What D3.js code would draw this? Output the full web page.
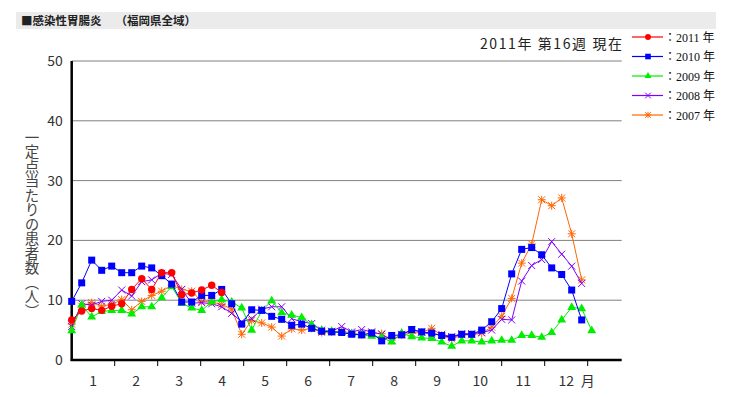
<!DOCTYPE html>
<html>
<head>
<meta charset="utf-8">
<script src="https://cdn.jsdelivr.net/npm/d3@7"></script>
<style>
  body { margin: 0; background: #fff; }
  svg { display: block; }
  .tick-label { font-family: "Noto Sans CJK JP", "DejaVu Sans", sans-serif; font-size: 14px; fill: #333; }
</style>
</head>
<body>
<svg id="chart" width="736" height="397"></svg>
<script>
// weekly values, one entry per week starting at week 1
const y2011 = [6.7, 8.2, 8.6, 8.3, 9.0, 9.4, 11.8, 13.6, 11.8, 14.6, 14.6, 10.9, 11.2, 11.7, 12.5, 11.3];
const y2010 = [9.8, 12.9, 16.7, 15.0, 15.7, 14.6, 14.6, 15.7, 15.4, 14.1, 12.7, 9.7, 9.7, 10.8, 10.8, 11.8,
  9.4, 6.0, 8.4, 8.3, 7.3, 6.8, 5.8, 6.0, 5.3, 4.8, 4.7, 4.6, 4.3, 4.2, 4.5, 3.2, 4.1, 4.2, 5.1, 4.7,
  4.5, 4.1, 3.8, 4.3, 4.3, 5.0, 6.4, 8.6, 14.4, 18.5, 18.8, 17.6, 15.4, 14.3, 11.7, 6.7];
const y2009 = [4.9, 9.2, 7.2, 8.1, 8.3, 8.3, 7.7, 8.9, 8.9, 10.4, 12.3, 9.5, 8.7, 8.3, 9.7, 10.1,
  9.7, 8.7, 5.0, 8.2, 9.9, 7.9, 7.5, 7.1, 5.9, 5.0, 4.8, 4.6, 4.4, 4.2, 4.0, 3.8, 3.0, 4.5, 3.9, 3.7,
  3.6, 3.0, 2.3, 3.2, 3.2, 3.0, 3.2, 3.3, 3.3, 4.1, 4.1, 3.8, 4.6, 6.7, 8.8, 8.6, 4.9];
const y2008 = [5.6, 9.4, 9.2, 9.8, 10.0, 11.7, 10.7, 13.1, 13.4, 14.5, 14.3, 11.8, 9.5, 9.6, 9.4, 8.9,
  7.8, 6.4, 6.9, 8.5, 8.9, 8.9, 6.9, 6.4, 6.1, 5.0, 4.8, 5.6, 4.7, 5.1, 4.7, 4.3, 3.3, 4.3, 5.0, 4.7,
  4.2, 4.3, 3.9, 4.4, 4.4, 4.6, 5.0, 6.8, 6.7, 13.2, 15.8, 16.8, 19.8, 17.7, 15.7, 12.8];
const y2007 = [6.0, 9.0, 9.6, 9.0, 9.3, 10.1, 8.4, 9.8, 10.8, 11.5, 12.5, 11.8, 11.5, 9.8, 9.7, 9.3,
  8.5, 4.3, 6.6, 6.2, 5.5, 4.0, 5.2, 5.0, 5.3, 4.6, 4.7, 4.8, 4.5, 4.2, 4.5, 4.4, 3.3, 4.2, 4.5, 4.6,
  5.3, 4.1, 3.5, 4.2, 4.2, 4.5, 5.5, 7.3, 10.3, 16.2, 19.4, 26.8, 25.8, 27.1, 21.1, 13.4];

const yTicks = [0, 10, 20, 30, 40, 50];
const monthLabels = ['1', '2', '3', '4', '5', '6', '7', '8', '9', '10', '11', '12'];
const seriesNames = ['2011 年', '2010 年', '2009 年', '2008 年', '2007 年'];
const seriesColors = ['#ff0000', '#0000ff', '#00ee00', '#8000ff', '#ff6600'];
const seriesShapes = ['circle', 'square', 'triangle', 'cross', 'star'];
const seriesValues = [y2011, y2010, y2009, y2008, y2007];

const svg = d3.select('#chart');

const x = d3.scaleLinear().domain([1, 56]).range([71.7, 621.7]);
const y = d3.scaleLinear().domain([0, 50]).range([360, 61]);
// month boundaries: 52.6 weeks spread over 12 months
const xMonth = d3.scaleLinear().domain([0, 12]).range([x(1), x(52.6)]);

// title bar
svg.append('rect').attr('x', 16).attr('y', 12).attr('width', 700).attr('height', 17).attr('fill', '#ebebeb');
svg.append('text')
  .attr('x', 21).attr('y', 25)
  .attr('font-family', '"Noto Sans CJK JP", sans-serif')
  .attr('font-weight', 'bold').attr('font-size', 11.5).attr('fill', '#222')
  .text('■感染性胃腸炎　 （福岡県全域）');

svg.append('text')
  .attr('x', 480).attr('y', 49)
  .attr('textLength', 142).attr('lengthAdjust', 'spacing')
  .attr('font-family', '"Noto Sans CJK JP", sans-serif')
  .attr('font-size', 14).attr('fill', '#222')
  .text('2011年 第16週 現在');

// grid
svg.append('g')
  .selectAll('line')
  .data(yTicks.filter(d => d > 0))
  .join('line')
  .attr('x1', x(1)).attr('x2', x(56))
  .attr('y1', d => y(d)).attr('y2', d => y(d))
  .attr('stroke', '#808080').attr('stroke-width', 1);

// y axis
const yAxis = svg.append('g')
  .attr('transform', `translate(${x(1)},0)`)
  .call(d3.axisLeft(y).tickValues(yTicks).tickSize(0).tickPadding(9));
yAxis.select('.domain').remove();
yAxis.selectAll('text').attr('class', 'tick-label').attr('font-size', null).attr('font-family', null).attr('fill', null);

svg.append('line')
  .attr('x1', x(1)).attr('x2', x(1)).attr('y1', y(50)).attr('y2', y(0) + 1)
  .attr('stroke', '#000').attr('stroke-width', 2.5);
svg.append('line')
  .attr('x1', x(1) - 1).attr('x2', x(56)).attr('y1', y(0)).attr('y2', y(0))
  .attr('stroke', '#000').attr('stroke-width', 2.5);

// month ticks and labels
svg.append('g')
  .selectAll('line')
  .data(d3.range(1, 13))
  .join('line')
  .attr('x1', d => xMonth(d)).attr('x2', d => xMonth(d))
  .attr('y1', y(0)).attr('y2', y(0) + 6)
  .attr('stroke', '#000').attr('stroke-width', 1);

svg.append('g')
  .selectAll('text')
  .data(monthLabels)
  .join('text')
  .attr('class', 'tick-label')
  .attr('x', (d, i) => xMonth(i + 0.5))
  .attr('y', 386)
  .attr('text-anchor', 'middle')
  .text(d => d);
svg.append('text').attr('class', 'tick-label')
  .attr('x', xMonth(12) - 7).attr('y', 386)
  .text('月');

// y title, vertical
svg.append('text')
  .attr('x', 32).attr('y', 224)
  .attr('text-anchor', 'middle')
  .style('writing-mode', 'vertical-rl')
  .attr('font-family', '"Noto Sans CJK JP", sans-serif')
  .attr('font-size', 14.5).attr('fill', '#444')
  .text('一定点当たりの患者数（人）');

// markers
function drawMarker(g, shape, color, s) {
  if (shape === 'circle') {
    g.append('circle').attr('r', 3.7 * s).attr('fill', color);
  } else if (shape === 'square') {
    g.append('rect').attr('x', -3.5 * s).attr('y', -3.5 * s).attr('width', 7 * s).attr('height', 7 * s).attr('fill', color);
  } else if (shape === 'triangle') {
    g.append('path').attr('d', d3.symbol(d3.symbolTriangle, 34 * s * s)()).attr('fill', color);
  } else if (shape === 'cross') {
    const r = 3.5 * s;
    g.append('path').attr('d', `M${-r},${-r}L${r},${r}M${-r},${r}L${r},${-r}`).attr('stroke', color).attr('stroke-width', 1);
  } else {
    const r = 3.5 * s, q = 4 * s;
    g.append('path').attr('d', `M${-r},${-r}L${r},${r}M${-r},${r}L${r},${-r}M0,${-q}L0,${q}M${-q},0L${q},0`).attr('stroke', color).attr('stroke-width', 1);
  }
}

const line = d3.line().x((d, i) => x(i + 1)).y(d => y(d));

// oldest year first so 2011 sits on top
d3.range(seriesValues.length - 1, -1, -1).forEach(k => {
  const g = svg.append('g');
  g.append('path')
    .datum(seriesValues[k])
    .attr('d', line)
    .attr('fill', 'none')
    .attr('stroke', seriesColors[k])
    .attr('stroke-width', 1);
  g.selectAll('g.pt')
    .data(seriesValues[k])
    .join('g')
    .attr('class', 'pt')
    .attr('transform', (d, i) => `translate(${x(i + 1)},${y(d)})`)
    .each(function() { drawMarker(d3.select(this), seriesShapes[k], seriesColors[k], 1); });
});

// legend
const legend = svg.append('g')
  .selectAll('g')
  .data(seriesNames)
  .join('g')
  .attr('transform', (d, i) => `translate(0,${37 + i * 19.5})`);
legend.append('line')
  .attr('x1', 632).attr('x2', 663).attr('y1', 0).attr('y2', 0)
  .attr('stroke', (d, i) => seriesColors[i]).attr('stroke-width', 1.2);
legend.append('g')
  .attr('transform', 'translate(648,0)')
  .each(function(d, i) { drawMarker(d3.select(this), seriesShapes[i], seriesColors[i], 0.8); });
legend.append('text')
  .attr('x', 664).attr('y', 4.5)
  .attr('font-family', '"Liberation Serif", "Noto Sans CJK JP", serif')
  .attr('font-size', 12).attr('fill', '#111')
  .text(d => '：' + d);
</script>
</body>
</html>
